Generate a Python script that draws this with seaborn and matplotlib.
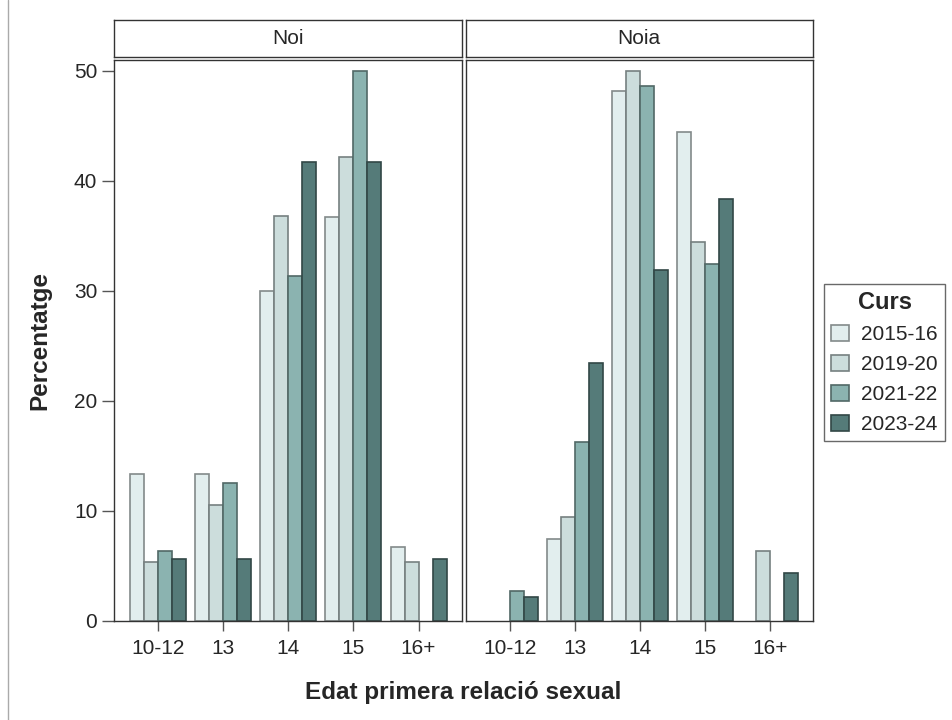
import numpy as np
import pandas as pd
import matplotlib
matplotlib.use("Agg")
import matplotlib.pyplot as plt
import seaborn as sns
from matplotlib.patches import Patch
from matplotlib.lines import Line2D
from matplotlib.colors import to_rgb

# data
ages = ["10-12", "13", "14", "15", "16+"]
courses = ["2015-16", "2019-20", "2021-22", "2023-24"]
panels = ["Noi", "Noia"]

noi_2015 = [13.3, 13.3, 30.0, 36.7, 6.7]
noi_2019 = [5.3, 10.5, 36.8, 42.1, 5.3]
noi_2021 = [6.3, 12.5, 31.3, 50.0, np.nan]
noi_2023 = [5.6, 5.6, 41.7, 41.7, 5.6]

noia_2015 = [np.nan, 7.4, 48.1, 44.4, np.nan]
noia_2019 = [np.nan, 9.4, 50.0, 34.4, 6.3]
noia_2021 = [2.7, 16.2, 48.6, 32.4, np.nan]
noia_2023 = [2.1, 23.4, 31.9, 38.3, 4.3]

palette = ["#E2EEEE", "#CCDDDC", "#8BB3B0", "#557B79"]

series = {
    "Noi": [noi_2015, noi_2019, noi_2021, noi_2023],
    "Noia": [noia_2015, noia_2019, noia_2021, noia_2023],
}
rows = []
for sex in panels:
    for course, vals in zip(courses, series[sex]):
        for age, v in zip(ages, vals):
            rows.append({"Sexe": sex, "Curs": course, "Edat": age, "Percentatge": v})
df = pd.DataFrame(rows)

sns.set_style("white")
plt.rcParams["font.family"] = ["Liberation Sans", "DejaVu Sans"]

fig = plt.figure(figsize=(9.52, 7.2), dpi=100)
W, H = 952, 720

def px_axes(x0, y0, x1, y1):
    return fig.add_axes([x0 / W, 1 - y1 / H, (x1 - x0) / W, (y1 - y0) / H])

frame_col = "#333333"
panel_box = {"Noi": (114, 461.5), "Noia": (465.5, 813)}

for i, sex in enumerate(panels):
    x0, x1 = panel_box[sex]
    ax = px_axes(x0, 59.5, x1, 620.5)
    sub = df[df["Sexe"] == sex]
    sns.barplot(data=sub, x="Edat", y="Percentatge", hue="Curs",
                order=ages, hue_order=courses, palette=palette,
                width=0.86, saturation=1, linewidth=1.2, legend=False, ax=ax)
    for p in ax.patches:
        fc = np.array(to_rgb(p.get_facecolor()))
        p.set_edgecolor(tuple(fc * 0.58))
    ax.set_ylim(0, 51)
    ax.set_xlim(-0.68, 4.66)
    ax.set_yticks([0, 10, 20, 30, 40, 50])
    ax.set_xlabel("")
    ax.set_ylabel("")
    for s in ax.spines.values():
        s.set_visible(True)
        s.set_color(frame_col)
        s.set_linewidth(1.0)
    ax.tick_params(axis="x", bottom=True, length=7, width=1, color="#555555",
                   labelsize=15, pad=6)
    if i == 0:
        ax.tick_params(axis="y", left=True, length=9, width=1, color="#555555",
                       labelsize=15, pad=3)
    else:
        ax.tick_params(axis="y", left=False, labelleft=False)

    # strip header
    sax = px_axes(x0, 20, x1, 57)
    sax.set_xticks([])
    sax.set_yticks([])
    for s in sax.spines.values():
        s.set_color(frame_col)
        s.set_linewidth(1.0)
    sax.text(0.5, 0.5, sex, ha="center", va="center", fontsize=15,
             transform=sax.transAxes)

fig.text(40 / W, 1 - 340 / H, "Percentatge", rotation=90, ha="center",
         va="center", fontsize=17.5, fontweight="bold")
fig.text(463 / W, 1 - 692 / H, "Edat primera relació sexual", ha="center",
         va="center", fontsize=17.5, fontweight="bold")

handles = [Patch(facecolor=c, edgecolor=tuple(np.array(to_rgb(c)) * 0.58),
                 linewidth=1.2, label=l) for c, l in zip(palette, courses)]
leg = fig.legend(handles=handles, title="Curs", loc="upper left",
                 bbox_to_anchor=(824 / W, 1 - 284 / H), fontsize=15,
                 title_fontproperties={"weight": "bold", "size": 17},
                 frameon=True, fancybox=False, edgecolor="#444444",
                 handlelength=0.85, handleheight=0.85, handletextpad=0.6,
                 labelspacing=0.5, borderpad=0.35, borderaxespad=0)
leg.get_frame().set_linewidth(1.0)

fig.add_artist(Line2D([7.5 / W, 7.5 / W], [0, 1], color="#aaaaaa", lw=1))

fig.savefig("out.png", dpi=100)
